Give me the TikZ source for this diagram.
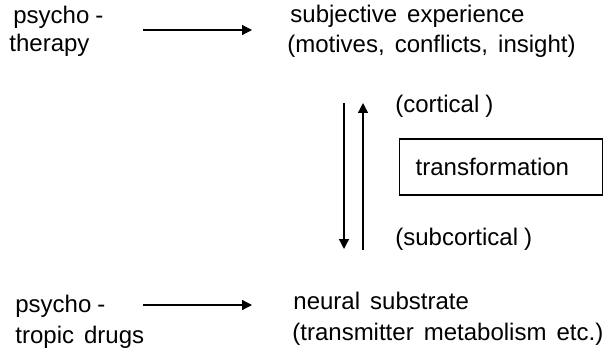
\documentclass[tikz,border=0pt]{standalone}
\usepackage{fontspec}
\setmainfont{Liberation Sans}
\usepackage{tikz}
\usetikzlibrary{arrows.meta}

\newcommand\lblfont{\fontsize{12}{15}\selectfont\spaceskip=0.42em\relax}
\newcommand\nsp{\hspace{0.25em}}

\tikzset{
  lbl/.style={inner sep=0pt, anchor=base west, font=\lblfont},
  arr/.style={line width=0.65pt, -{Triangle[length=5pt,width=5pt]}},
  tbox/.style={draw, line width=0.65pt, inner xsep=8pt, text width=85.5pt, align=left,
    minimum height=28pt, anchor=west, font=\lblfont}
}

\begin{document}
\begin{tikzpicture}[x=0.5pt, y=-0.5pt]
\useasboundingbox (0,0) rectangle (614,352);
% upper row
\node[lbl] (psy1) at (13,24) {psycho\nsp-};
\node[lbl] (psy2) at (9,52) {therapy};
\node[lbl] (subj1) at (290,23) {subjective experience};
\node[lbl] (subj2) at (287,53) {(motives, conflicts, insight)};
\coordinate (t1) at (143,30);
\coordinate (t2) at (252,30);
\draw[arr] (t1) -- (t2);
% middle
\coordinate (d1) at (344,103);
\coordinate (d2) at (344,249);
\coordinate (u1) at (363,250);
\coordinate (u2) at (363,103);
\draw[arr] (d1) -- (d2);
\draw[arr] (u1) -- (u2);
\node[lbl] (cort) at (395,113) {(cortical\nsp)};
\node[tbox] (trans) at (399,167) {transformation};
\node[lbl] (subc) at (395,245) {(subcortical\nsp)};
% lower row
\node[lbl] (drug1) at (15,312) {psycho\nsp-};
\node[lbl] (drug2) at (15,343) {tropic drugs};
\node[lbl] (neur1) at (293,309) {neural substrate};
\node[lbl] (neur2) at (292,340) {(transmitter metabolism etc.)};
\coordinate (b1) at (143,305);
\coordinate (b2) at (252,305);
\draw[arr] (b1) -- (b2);
\end{tikzpicture}
\end{document}
